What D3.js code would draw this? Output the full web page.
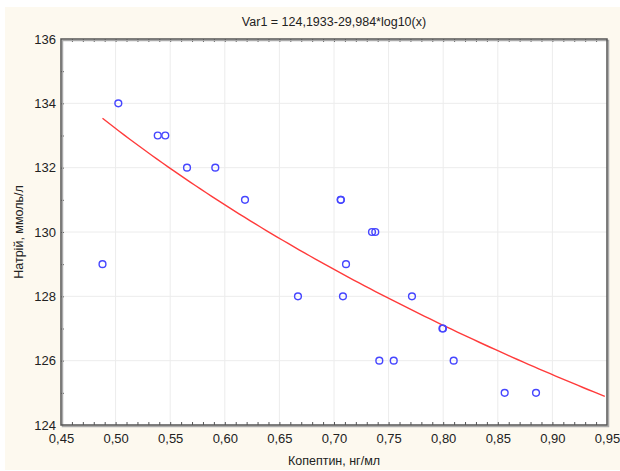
<!DOCTYPE html>
<html>
<head>
<meta charset="utf-8">
<script src="https://cdn.jsdelivr.net/npm/d3@7"></script>
<style>
  body { margin: 0; background: #fff; }
  svg text { font-family: "Liberation Sans", Arial, sans-serif; fill: #222; }
</style>
</head>
<body>
<div id="svg-container"></div>
<script>
// data
const kopeptin = [0.488, 0.5025, 0.5386, 0.5455, 0.5654, 0.5913, 0.6185, 0.667, 0.7061, 0.7063,
  0.711, 0.7082, 0.7348, 0.7378, 0.7415, 0.7547, 0.7714, 0.7993, 0.7998, 0.8096, 0.8563, 0.885];
const natrii = [129, 134, 133, 133, 132, 132, 131, 128, 131, 131,
  129, 128, 130, 130, 126, 126, 128, 127, 127, 126, 125, 125];
const xTicks = [0.45, 0.5, 0.55, 0.6, 0.65, 0.7, 0.75, 0.8, 0.85, 0.9, 0.95];
const yTicks = [124, 126, 128, 130, 132, 134, 136];
// fit: Var1 = 124,1933-29,984*log10(x)
const fitA = 124.1933;
const fitB = -29.984;

const width = 620, height = 471;
const margin = { top: 39, right: 13, bottom: 46, left: 61 };

const svg = d3.select("#svg-container").append("svg")
  .attr("width", width).attr("height", height);

// cream panel
svg.append("rect")
  .attr("x", 5).attr("y", 7).attr("width", 615).attr("height", 463)
  .attr("fill", "#fdf9ef");

const xScale = d3.scaleLinear().domain([0.45, 0.95]).range([margin.left, width - margin.right]);
const yScale = d3.scaleLinear().domain([124, 136]).range([height - margin.bottom, margin.top]);
const fmt = (d) => d3.format(".2f")(d).replace(".", ",");

// plot background
svg.append("rect")
  .attr("x", xScale(0.45)).attr("y", yScale(136))
  .attr("width", xScale(0.95) - xScale(0.45))
  .attr("height", yScale(124) - yScale(136))
  .attr("fill", "#fff");

// grid
svg.append("g")
  .selectAll("line")
  .data(xTicks.slice(1, -1))
  .join("line")
  .attr("x1", (d) => xScale(d)).attr("x2", (d) => xScale(d))
  .attr("y1", yScale(136)).attr("y2", yScale(124))
  .attr("stroke", "#ececec").attr("stroke-width", 1);
svg.append("g")
  .selectAll("line")
  .data(yTicks.slice(1, -1))
  .join("line")
  .attr("y1", (d) => yScale(d)).attr("y2", (d) => yScale(d))
  .attr("x1", xScale(0.45)).attr("x2", xScale(0.95))
  .attr("stroke", "#ececec").attr("stroke-width", 1);

// axes (ticks inward)
const xMinor = d3.range(46, 95).map((d) => d / 100);
const yMinor = d3.range(125, 136);

svg.append("g")
  .attr("class", "x-axis")
  .attr("transform", `translate(0, ${yScale(124)})`)
  .call(d3.axisBottom(xScale).tickValues(xMinor).tickSize(-3).tickFormat(""))
  .call((g) => g.select(".domain").remove())
  .call((g) => g.selectAll("line").attr("stroke", "#555"));
svg.append("g")
  .attr("transform", `translate(0, ${yScale(124)})`)
  .call(d3.axisBottom(xScale).tickValues(xTicks).tickSize(0).tickPadding(9).tickFormat(fmt))
  .call((g) => g.select(".domain").remove())
  .call((g) => g.selectAll("text").attr("font-size", 13).attr("fill", "#222"));

svg.append("g")
  .attr("transform", `translate(0, ${yScale(136)})`)
  .call(d3.axisTop(xScale).tickValues(xMinor).tickSize(-3).tickFormat(""))
  .call((g) => g.select(".domain").remove())
  .call((g) => g.selectAll("line").attr("stroke", "#555"));

svg.append("g")
  .attr("class", "y-axis")
  .attr("transform", `translate(${xScale(0.45)}, 0)`)
  .call(d3.axisLeft(yScale).tickValues(yMinor).tickSize(-3).tickFormat(""))
  .call((g) => g.select(".domain").remove())
  .call((g) => g.selectAll("line").attr("stroke", "#555"));
svg.append("g")
  .attr("transform", `translate(${xScale(0.45)}, 0)`)
  .call(d3.axisLeft(yScale).tickValues(yTicks).tickSize(0).tickPadding(5))
  .call((g) => g.select(".domain").remove())
  .call((g) => g.selectAll("text").attr("font-size", 13).attr("fill", "#222"));

// frame
svg.append("rect")
  .attr("x", xScale(0.45) + 1.5).attr("y", yScale(136) + 1.5)
  .attr("width", xScale(0.95) - xScale(0.45))
  .attr("height", yScale(124) - yScale(136))
  .attr("fill", "none").attr("stroke", "#aaa").attr("stroke-width", 1.5);
svg.append("rect")
  .attr("x", xScale(0.45)).attr("y", yScale(136))
  .attr("width", xScale(0.95) - xScale(0.45))
  .attr("height", yScale(124) - yScale(136))
  .attr("fill", "none").attr("stroke", "#555").attr("stroke-width", 1.5);

// fitted curve
const fitX = d3.range(d3.min(kopeptin), 0.9501, 0.005);
const line = d3.line()
  .x((d) => xScale(d))
  .y((d) => yScale(fitA + fitB * Math.log10(d)));
svg.append("path")
  .datum(fitX)
  .attr("fill", "none")
  .attr("stroke", "#ff3b3b")
  .attr("stroke-width", 1.4)
  .attr("d", line);

// points
svg.append("g")
  .selectAll("circle")
  .data(kopeptin)
  .join("circle")
  .attr("cx", (d) => xScale(d))
  .attr("cy", (d, i) => yScale(natrii[i]))
  .attr("r", 3.4)
  .attr("fill", "none")
  .attr("stroke", "#4646ff")
  .attr("stroke-width", 1.4);

// title and labels
svg.append("text")
  .attr("x", (xScale(0.45) + xScale(0.95)) / 2).attr("y", 26)
  .attr("text-anchor", "middle").attr("font-size", 12.5)
  .text("Var1 = 124,1933-29,984*log10(x)");
svg.append("text")
  .attr("x", (xScale(0.45) + xScale(0.95)) / 2).attr("y", 465)
  .attr("text-anchor", "middle").attr("font-size", 12.5)
  .text("Копептин, нг/мл");
svg.append("text")
  .attr("transform", `translate(23, ${(yScale(124) + yScale(136)) / 2}) rotate(-90)`)
  .attr("text-anchor", "middle").attr("font-size", 12.5)
  .text("Натрій, ммоль/л");
</script>
</body>
</html>
